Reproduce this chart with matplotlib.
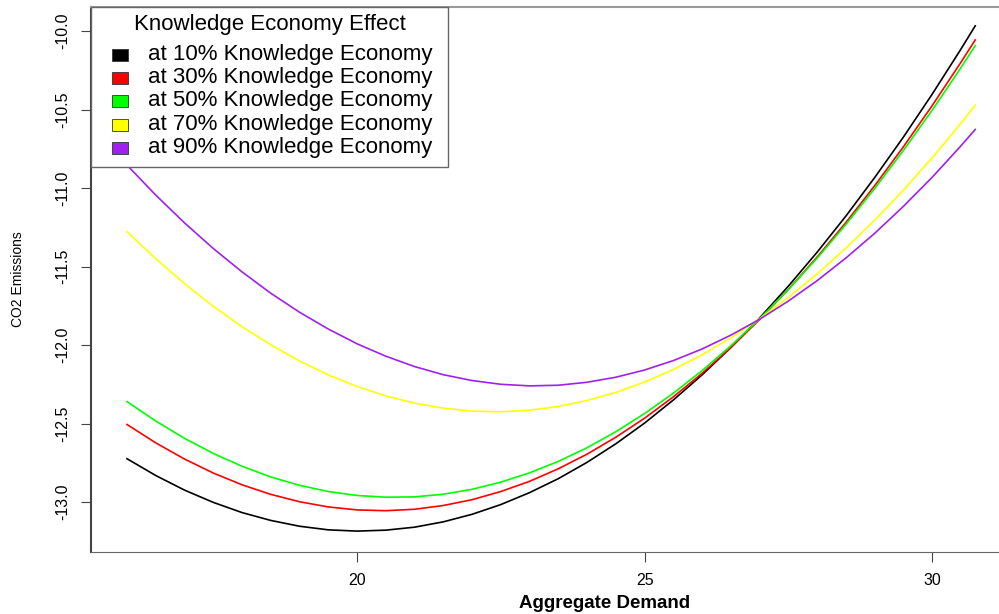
import numpy as np
import matplotlib.pyplot as plt
from matplotlib.patches import Rectangle

plt.rcParams['font.family'] = ['Liberation Sans', 'DejaVu Sans']

# values every half step of aggregate demand
demand = [16, 16.5, 17, 17.5, 18, 18.5, 19, 19.5, 20, 20.5, 21, 21.5, 22, 22.5,
          23, 23.5, 24, 24.5, 25, 25.5, 26, 26.5, 27, 27.5, 28, 28.5, 29, 29.5,
          30, 30.5, 30.75]

ke_10 = [-12.724, -12.831, -12.924, -13.002, -13.067, -13.117, -13.154, -13.177,
         -13.185, -13.179, -13.160, -13.126, -13.078, -13.016, -12.940, -12.851,
         -12.747, -12.629, -12.497, -12.350, -12.190, -12.016, -11.828, -11.625,
         -11.409, -11.179, -10.934, -10.676, -10.403, -10.116, -9.967]
ke_30 = [-12.506, -12.623, -12.726, -12.815, -12.890, -12.951, -12.998, -13.031,
         -13.050, -13.055, -13.046, -13.022, -12.985, -12.933, -12.868, -12.788,
         -12.695, -12.587, -12.466, -12.330, -12.180, -12.016, -11.838, -11.646,
         -11.440, -11.220, -10.986, -10.738, -10.476, -10.200, -10.057]
ke_50 = [-12.360, -12.484, -12.594, -12.690, -12.772, -12.840, -12.893, -12.933,
         -12.958, -12.969, -12.967, -12.950, -12.919, -12.873, -12.814, -12.741,
         -12.654, -12.552, -12.436, -12.307, -12.163, -12.005, -11.833, -11.647,
         -11.447, -11.232, -11.004, -10.761, -10.505, -10.234, -10.093]
ke_70 = [-11.278, -11.450, -11.609, -11.753, -11.883, -11.999, -12.101, -12.190,
         -12.264, -12.324, -12.370, -12.402, -12.421, -12.425, -12.415, -12.391,
         -12.353, -12.302, -12.236, -12.156, -12.062, -11.954, -11.833, -11.697,
         -11.547, -11.383, -11.205, -11.014, -10.808, -10.588, -10.473]
ke_90 = [-10.854, -11.045, -11.222, -11.385, -11.534, -11.670, -11.791, -11.898,
         -11.992, -12.071, -12.137, -12.189, -12.226, -12.250, -12.260, -12.256,
         -12.237, -12.205, -12.159, -12.099, -12.025, -11.937, -11.836, -11.720,
         -11.590, -11.446, -11.289, -11.117, -10.932, -10.732, -10.627]

labels = ['at 10% Knowledge Economy', 'at 30% Knowledge Economy',
          'at 50% Knowledge Economy', 'at 70% Knowledge Economy',
          'at 90% Knowledge Economy']
colors = ['black', '#ff0000', '#00ff00', '#ffff00', '#a020f0']
series = [ke_10, ke_30, ke_50, ke_70, ke_90]

xticks = [20, 25, 30]
yticks = [-10.0, -10.5, -11.0, -11.5, -12.0, -12.5, -13.0]

fig = plt.figure(figsize=(9.99, 6.14), dpi=100)
ax = fig.add_axes([0.0911, 0.101, 0.909, 0.8876])

for y, c in zip(series, colors):
    ax.plot(demand, y, color=c, lw=1.2)

ax.set_xlim(15.374, 31.165)
ax.set_ylim(-13.318, -9.847)

ax.spines['right'].set_visible(False)
ax.spines['left'].set_color('#444444')
ax.spines['bottom'].set_color('#666666')
ax.spines['top'].set_color('#999999')
ax.spines['left'].set_linewidth(1.5)
ax.spines['top'].set_linewidth(1.5)

ax.set_xticks(xticks)
ax.set_xticklabels([str(t) for t in xticks])
ax.set_yticks(yticks)
ax.set_yticklabels(['%.1f' % t for t in yticks], rotation=90, va='center')
ax.tick_params(axis='both', length=7, color='#444444', labelsize=11.5, pad=4)
ax.tick_params(axis='x', pad=8)
ax.tick_params(axis='y', pad=8)

ax.set_ylabel('CO2 Emissions', fontsize=10, labelpad=22)
fig.text(0.605, 0.004, 'Aggregate Demand', fontsize=13.5, fontweight='bold',
         ha='center', va='bottom')

# legend box, drawn by hand so it matches the R layout
ax.add_patch(Rectangle((0, 0.7064), 0.393, 0.2936, transform=ax.transAxes,
                       facecolor='white', edgecolor='#666666', lw=1.0, zorder=5,
                       clip_on=False))
ax.text(0.197, 0.967, 'Knowledge Economy Effect', transform=ax.transAxes,
        fontsize=16, ha='center', va='center', zorder=6)
rows = [0.912, 0.870, 0.828, 0.784, 0.742]
for r, lab, c in zip(rows, labels, colors):
    ax.add_patch(Rectangle((0.0231, r - 0.011), 0.0176, 0.022, transform=ax.transAxes,
                           facecolor=c, edgecolor='#333333', lw=0.6, zorder=6))
    ax.text(0.0628, r, lab, transform=ax.transAxes, fontsize=16,
            ha='left', va='center', zorder=6)

fig.savefig('out.png', dpi=100)
